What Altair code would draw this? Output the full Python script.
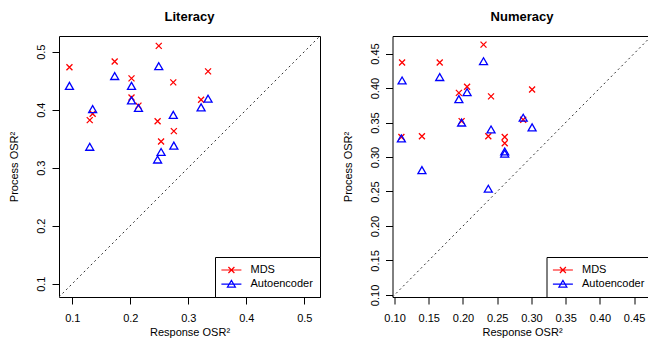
import altair as alt
import pandas as pd

# ---- data ----
methods = ["MDS", "Autoencoder"]

lit_resp = [0.095, 0.173, 0.249, 0.334, 0.202, 0.274, 0.202, 0.214, 0.322, 0.135, 0.130, 0.247, 0.275, 0.253]
lit_mds = [0.473, 0.483, 0.510, 0.466, 0.454, 0.447, 0.421, 0.407, 0.417, 0.393, 0.382, 0.380, 0.363, 0.345]
lit_ae = [0.441, 0.458, 0.475, 0.419, 0.441, 0.391, 0.416, 0.403, 0.404, 0.401, 0.336, 0.314, 0.338, 0.327]

num_resp = [0.111, 0.166, 0.230, 0.194, 0.206, 0.241, 0.301, 0.198, 0.288, 0.110, 0.140, 0.237, 0.261, 0.261]
num_mds = [0.437, 0.437, 0.463, 0.393, 0.402, 0.388, 0.398, 0.352, 0.354, 0.329, 0.330, 0.330, 0.329, 0.320]
num_ae = [0.411, 0.416, 0.439, 0.384, 0.394, 0.340, 0.343, 0.350, 0.357, 0.327, 0.281, 0.254, 0.308, 0.305]

lit_lim = [0.077, 0.527]
num_lim = [0.097, 0.4755]
lit_ticks = [0.1, 0.2, 0.3, 0.4, 0.5]
num_ticks = [0.10, 0.15, 0.20, 0.25, 0.30, 0.35, 0.40, 0.45]

# ---- styling ----
FONT = "Liberation Sans"
colors = ["#ff0000", "#0000ff"]
point_shapes = ["M-1,-1L1,1M-1,1L1,-1", "triangle-up"]
point_sizes = [36, 64]
legend_shapes = [
    "M-2,0H2M-0.6,-0.6L0.6,0.6M-0.6,0.6L0.6,-0.6",
    "M-2,0H2M0,-0.75L0.8,0.6L-0.8,0.6Z",
]


def make_legend():
    return alt.Legend(
        title=None,
        orient="bottom-right",
        offset=0,
        strokeColor="black",
        fillColor="white",
        padding=7,
        symbolSize=100,
        symbolStrokeWidth=1.2,
        symbolOffset=3.4,
        labelFont=FONT,
        labelFontSize=11,
        labelColor="black",
        labelOffset=13.1,
        rowPadding=1.1,
    )


def panel(title, resp, mds, ae, lim, ticks, fmt, width):
    n = len(resp)
    df = pd.DataFrame({
        "resp": resp + resp,
        "proc": mds + ae,
        "method": ["MDS"] * n + ["Autoencoder"] * n,
    })
    diag = pd.DataFrame({"resp": lim, "proc": lim})

    x = alt.X("resp:Q", scale=alt.Scale(domain=lim, nice=False, zero=False),
              axis=alt.Axis(values=ticks, format=fmt, title="Response  OSR²"))
    y = alt.Y("proc:Q", scale=alt.Scale(domain=lim, nice=False, zero=False),
              axis=alt.Axis(values=ticks, format=fmt, title="Process  OSR²",
                            labelAngle=-90, labelAlign="center", labelBaseline="bottom"))

    line = alt.Chart(diag).mark_line(color="#333333", strokeDash=[2, 3], strokeWidth=1).encode(x=x, y=y)

    pts = alt.Chart(df).mark_point(filled=False, strokeWidth=1.3, opacity=1).encode(
        x=x, y=y,
        color=alt.Color("method:N", scale=alt.Scale(domain=methods, range=colors), legend=None),
        shape=alt.Shape("method:N", scale=alt.Scale(domain=methods, range=point_shapes), legend=None),
        size=alt.Size("method:N", scale=alt.Scale(domain=methods, range=point_sizes), legend=None),
    )

    leg = alt.Chart(df).transform_filter("false").mark_point(filled=False, strokeWidth=1.2, opacity=1).encode(
        x=x, y=y,
        color=alt.Color("method:N", scale=alt.Scale(domain=methods, range=colors), legend=make_legend()),
        shape=alt.Shape("method:N", scale=alt.Scale(domain=methods, range=legend_shapes), legend=make_legend()),
    )

    return alt.layer(line, pts, leg).resolve_scale(
        color="independent", shape="independent"
    ).properties(
        width=width, height=261,
        title=alt.TitleParams(title, font=FONT, fontSize=13, fontWeight="bold", color="black",
                              offset=10, anchor="middle", frame="group"),
    )


left = panel("Literacy", lit_resp, lit_mds, lit_ae, lit_lim, lit_ticks, ".1f", 261)
right = panel("Numeracy", num_resp, num_mds, num_ae, num_lim, num_ticks, ".2f", 259)

chart = alt.hconcat(left, right, spacing=18.5).properties(
    padding={"left": 0, "top": 2, "right": -6.5, "bottom": 0},
    background="white",
).configure_view(
    stroke="black", strokeWidth=1
).configure_axis(
    domain=False, grid=False, tickColor="black", tickSize=7, tickWidth=1,
    labelFont=FONT, labelFontSize=11, labelColor="black", labelFlush=False, labelOverlap=False,
    titleFont=FONT, titleFontSize=11, titleFontWeight="normal", titleColor="black",
).configure_axisX(
    labelPadding=8, titlePadding=3, minExtent=26, maxExtent=26
).configure_axisY(
    labelPadding=5.5, titlePadding=15.5, minExtent=24, maxExtent=24
)

chart.save("out.html", embed_options={"renderer": "svg", "actions": False})
